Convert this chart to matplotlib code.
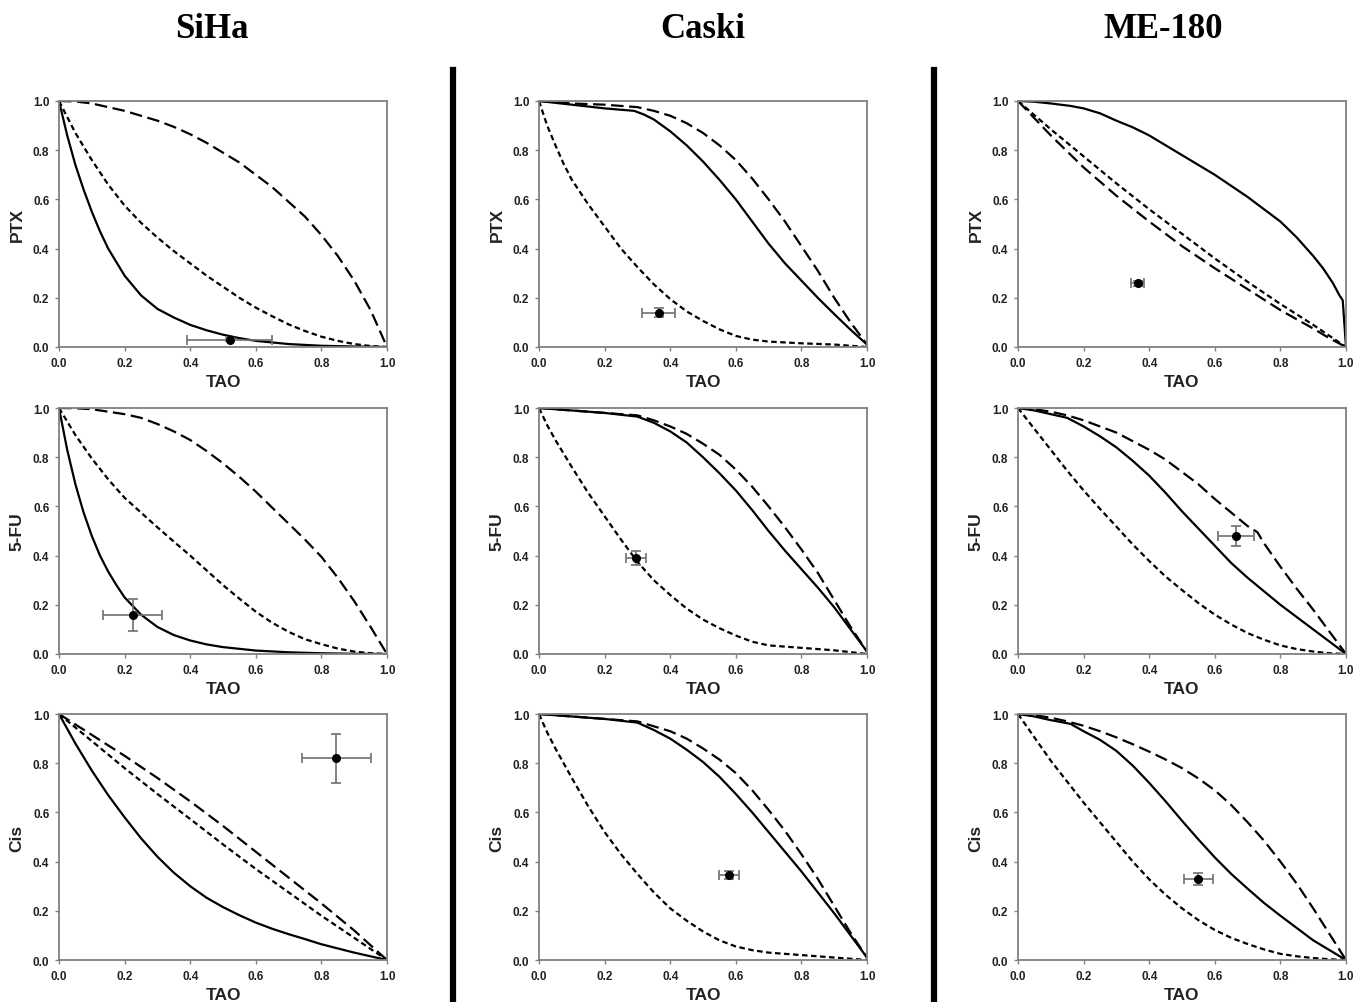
import matplotlib
matplotlib.use("Agg")
import matplotlib.pyplot as plt
from matplotlib.ticker import FormatStrFormatter

plt.rcParams["font.family"] = ["Liberation Sans", "DejaVu Sans"]
plt.rcParams["lines.scale_dashes"] = False

cells = ["SiHa", "Caski", "ME-180"]
drugs = ["PTX", "5-FU", "Cis"]

# curves: {(drug, cell): (x, y)}
solid = {
    ("PTX", "SiHa"): ([0, 0.025, 0.05, 0.075, 0.1, 0.125, 0.15, 0.175, 0.2, 0.25, 0.3, 0.35, 0.4, 0.45, 0.5, 0.55, 0.6, 0.7, 0.8, 0.9, 1.0],
                      [1, 0.86, 0.74, 0.64, 0.55, 0.47, 0.40, 0.345, 0.29, 0.21, 0.155, 0.12, 0.09, 0.068, 0.05, 0.036, 0.025, 0.012, 0.005, 0.002, 0]),
    ("PTX", "Caski"): ([0, 0.1, 0.2, 0.29, 0.32, 0.35, 0.4, 0.45, 0.5, 0.55, 0.6, 0.65, 0.7, 0.75, 0.8, 0.85, 0.9, 0.95, 1.0],
                       [1, 0.985, 0.97, 0.96, 0.945, 0.925, 0.877, 0.82, 0.754, 0.68, 0.60, 0.51, 0.42, 0.34, 0.27, 0.20, 0.134, 0.07, 0.01]),
    ("PTX", "ME-180"): ([0, 0.05, 0.1, 0.16, 0.2, 0.25, 0.3, 0.35, 0.4, 0.45, 0.5, 0.55, 0.6, 0.65, 0.7, 0.75, 0.8, 0.85, 0.9, 0.93, 0.96, 0.98, 0.99, 1.0],
                        [1, 0.997, 0.99, 0.98, 0.97, 0.95, 0.92, 0.893, 0.86, 0.82, 0.78, 0.74, 0.70, 0.655, 0.61, 0.56, 0.51, 0.445, 0.37, 0.32, 0.26, 0.21, 0.19, 0]),
    ("5-FU", "SiHa"): ([0, 0.025, 0.05, 0.075, 0.1, 0.125, 0.15, 0.175, 0.2, 0.25, 0.3, 0.35, 0.4, 0.45, 0.5, 0.6, 0.7, 0.8, 0.9, 1.0],
                       [1, 0.83, 0.69, 0.575, 0.48, 0.40, 0.335, 0.28, 0.23, 0.16, 0.11, 0.077, 0.055, 0.039, 0.028, 0.014, 0.007, 0.003, 0.001, 0]),
    ("5-FU", "Caski"): ([0, 0.1, 0.2, 0.3, 0.35, 0.4, 0.45, 0.5, 0.55, 0.6, 0.65, 0.7, 0.75, 0.8, 0.85, 0.9, 0.95, 1.0],
                        [1, 0.99, 0.98, 0.965, 0.94, 0.905, 0.86, 0.80, 0.735, 0.665, 0.585, 0.50, 0.42, 0.345, 0.27, 0.19, 0.10, 0.01]),
    ("5-FU", "ME-180"): ([0, 0.05, 0.1, 0.15, 0.2, 0.25, 0.3, 0.35, 0.4, 0.45, 0.5, 0.55, 0.6, 0.65, 0.7, 0.75, 0.8, 0.85, 0.9, 0.95, 1.0],
                         [1, 0.99, 0.975, 0.96, 0.925, 0.885, 0.84, 0.785, 0.725, 0.655, 0.58, 0.51, 0.44, 0.37, 0.31, 0.255, 0.20, 0.15, 0.10, 0.05, 0]),
    ("Cis", "SiHa"): ([0, 0.05, 0.1, 0.15, 0.2, 0.25, 0.3, 0.35, 0.4, 0.45, 0.5, 0.55, 0.6, 0.65, 0.7, 0.75, 0.8, 0.85, 0.9, 0.95, 1.0],
                      [1, 0.88, 0.77, 0.67, 0.58, 0.495, 0.42, 0.355, 0.30, 0.253, 0.215, 0.182, 0.152, 0.127, 0.105, 0.085, 0.064, 0.047, 0.03, 0.015, 0]),
    ("Cis", "Caski"): ([0, 0.1, 0.2, 0.3, 0.35, 0.4, 0.45, 0.5, 0.55, 0.6, 0.65, 0.7, 0.75, 0.8, 0.85, 0.9, 0.95, 1.0],
                       [1, 0.99, 0.98, 0.965, 0.935, 0.90, 0.855, 0.805, 0.745, 0.675, 0.60, 0.52, 0.44, 0.36, 0.275, 0.19, 0.10, 0.01]),
    ("Cis", "ME-180"): ([0, 0.05, 0.1, 0.16, 0.2, 0.25, 0.3, 0.35, 0.4, 0.45, 0.5, 0.55, 0.6, 0.65, 0.7, 0.75, 0.8, 0.85, 0.9, 0.95, 1.0],
                        [1, 0.99, 0.975, 0.96, 0.93, 0.895, 0.85, 0.79, 0.72, 0.645, 0.566, 0.49, 0.417, 0.35, 0.29, 0.232, 0.18, 0.13, 0.08, 0.04, 0]),
}

long_dash = {
    ("PTX", "SiHa"): ([0, 0.05, 0.1, 0.15, 0.2, 0.25, 0.3, 0.35, 0.4, 0.45, 0.5, 0.55, 0.6, 0.65, 0.7, 0.75, 0.8, 0.85, 0.9, 0.95, 1.0],
                      [1, 0.998, 0.99, 0.975, 0.96, 0.94, 0.92, 0.895, 0.865, 0.83, 0.79, 0.75, 0.70, 0.65, 0.59, 0.53, 0.455, 0.37, 0.27, 0.15, 0]),
    ("PTX", "Caski"): ([0, 0.1, 0.2, 0.3, 0.35, 0.4, 0.45, 0.5, 0.55, 0.6, 0.65, 0.7, 0.75, 0.8, 0.85, 0.9, 0.95, 1.0],
                       [1, 0.99, 0.985, 0.975, 0.96, 0.94, 0.91, 0.87, 0.82, 0.76, 0.685, 0.60, 0.51, 0.41, 0.31, 0.20, 0.10, 0.01]),
    ("PTX", "ME-180"): ([0, 0.1, 0.2, 0.3, 0.4, 0.5, 0.6, 0.7, 0.8, 0.9, 0.95, 1.0],
                        [1, 0.86, 0.73, 0.615, 0.51, 0.41, 0.32, 0.235, 0.15, 0.075, 0.035, 0]),
    ("5-FU", "SiHa"): ([0, 0.05, 0.1, 0.15, 0.2, 0.25, 0.3, 0.35, 0.4, 0.45, 0.5, 0.55, 0.6, 0.65, 0.7, 0.75, 0.8, 0.85, 0.9, 0.95, 1.0],
                       [1, 0.999, 0.995, 0.985, 0.975, 0.96, 0.935, 0.905, 0.87, 0.825, 0.775, 0.72, 0.66, 0.595, 0.53, 0.465, 0.395, 0.31, 0.215, 0.11, 0]),
    ("5-FU", "Caski"): ([0, 0.1, 0.2, 0.3, 0.35, 0.4, 0.45, 0.5, 0.55, 0.6, 0.65, 0.7, 0.75, 0.8, 0.85, 0.9, 0.95, 1.0],
                        [1, 0.99, 0.98, 0.97, 0.95, 0.925, 0.895, 0.855, 0.81, 0.75, 0.68, 0.60, 0.515, 0.425, 0.33, 0.22, 0.11, 0.01]),
    ("5-FU", "ME-180"): ([0, 0.05, 0.1, 0.15, 0.2, 0.25, 0.3, 0.35, 0.4, 0.45, 0.5, 0.55, 0.6, 0.65, 0.7, 0.73, 0.75, 0.8, 0.85, 0.9, 0.95, 1.0],
                         [1, 0.995, 0.985, 0.97, 0.95, 0.925, 0.90, 0.865, 0.83, 0.79, 0.74, 0.69, 0.63, 0.575, 0.52, 0.495, 0.45, 0.355, 0.265, 0.18, 0.09, 0]),
    ("Cis", "SiHa"): ([0, 0.1, 0.2, 0.3, 0.4, 0.5, 0.6, 0.7, 0.8, 0.9, 1.0],
                      [1, 0.915, 0.83, 0.74, 0.645, 0.545, 0.44, 0.335, 0.23, 0.12, 0]),
    ("Cis", "Caski"): ([0, 0.1, 0.2, 0.3, 0.35, 0.4, 0.45, 0.5, 0.55, 0.6, 0.65, 0.7, 0.75, 0.8, 0.85, 0.9, 0.95, 1.0],
                       [1, 0.99, 0.98, 0.97, 0.95, 0.93, 0.90, 0.86, 0.815, 0.76, 0.69, 0.61, 0.525, 0.43, 0.33, 0.22, 0.11, 0.01]),
    ("Cis", "ME-180"): ([0, 0.05, 0.1, 0.15, 0.2, 0.25, 0.3, 0.35, 0.4, 0.45, 0.5, 0.55, 0.6, 0.65, 0.7, 0.75, 0.8, 0.85, 0.9, 0.95, 1.0],
                        [1, 0.995, 0.985, 0.97, 0.952, 0.93, 0.905, 0.877, 0.847, 0.815, 0.78, 0.738, 0.69, 0.63, 0.56, 0.485, 0.40, 0.31, 0.21, 0.105, 0]),
}

short_dash = {
    ("PTX", "SiHa"): ([0, 0.05, 0.1, 0.15, 0.2, 0.25, 0.3, 0.35, 0.4, 0.45, 0.5, 0.55, 0.6, 0.65, 0.7, 0.75, 0.8, 0.85, 0.9, 0.95, 1.0],
                      [1, 0.87, 0.76, 0.66, 0.575, 0.505, 0.445, 0.39, 0.34, 0.29, 0.245, 0.20, 0.16, 0.125, 0.092, 0.065, 0.042, 0.025, 0.012, 0.004, 0]),
    ("PTX", "Caski"): ([0, 0.025, 0.05, 0.075, 0.1, 0.15, 0.2, 0.25, 0.3, 0.35, 0.4, 0.45, 0.5, 0.55, 0.6, 0.65, 0.7, 0.8, 0.9, 1.0],
                       [1, 0.9, 0.82, 0.745, 0.68, 0.58, 0.49, 0.40, 0.325, 0.255, 0.195, 0.145, 0.106, 0.072, 0.045, 0.03, 0.022, 0.015, 0.01, 0]),
    ("PTX", "ME-180"): ([0, 0.1, 0.2, 0.3, 0.4, 0.5, 0.6, 0.7, 0.8, 0.9, 0.95, 1.0],
                        [1, 0.885, 0.775, 0.665, 0.56, 0.46, 0.36, 0.265, 0.175, 0.09, 0.045, 0]),
    ("5-FU", "SiHa"): ([0, 0.05, 0.1, 0.15, 0.2, 0.25, 0.3, 0.35, 0.4, 0.45, 0.5, 0.55, 0.6, 0.65, 0.7, 0.75, 0.8, 0.85, 0.9, 0.95, 1.0],
                       [1, 0.89, 0.795, 0.71, 0.635, 0.575, 0.515, 0.457, 0.40, 0.34, 0.28, 0.225, 0.172, 0.127, 0.09, 0.06, 0.04, 0.022, 0.01, 0.003, 0]),
    ("5-FU", "Caski"): ([0, 0.025, 0.05, 0.1, 0.15, 0.2, 0.25, 0.3, 0.35, 0.4, 0.45, 0.5, 0.55, 0.6, 0.65, 0.7, 0.8, 0.9, 1.0],
                        [1, 0.93, 0.87, 0.76, 0.655, 0.56, 0.465, 0.375, 0.30, 0.24, 0.185, 0.14, 0.105, 0.075, 0.05, 0.035, 0.025, 0.015, 0]),
    ("5-FU", "ME-180"): ([0, 0.05, 0.1, 0.15, 0.2, 0.25, 0.3, 0.35, 0.4, 0.45, 0.5, 0.55, 0.6, 0.65, 0.7, 0.75, 0.8, 0.85, 0.9, 0.95, 1.0],
                         [1, 0.915, 0.83, 0.745, 0.665, 0.59, 0.518, 0.445, 0.378, 0.315, 0.26, 0.207, 0.16, 0.12, 0.085, 0.058, 0.035, 0.02, 0.01, 0.003, 0]),
    ("Cis", "SiHa"): ([0, 0.1, 0.2, 0.3, 0.4, 0.5, 0.6, 0.7, 0.8, 0.9, 1.0],
                      [1, 0.89, 0.78, 0.675, 0.573, 0.47, 0.37, 0.275, 0.18, 0.09, 0]),
    ("Cis", "Caski"): ([0, 0.025, 0.05, 0.1, 0.15, 0.2, 0.25, 0.3, 0.35, 0.4, 0.45, 0.5, 0.55, 0.6, 0.65, 0.7, 0.8, 0.9, 1.0],
                       [1, 0.925, 0.86, 0.74, 0.625, 0.52, 0.43, 0.35, 0.275, 0.21, 0.16, 0.116, 0.08, 0.055, 0.04, 0.03, 0.02, 0.01, 0]),
    ("Cis", "ME-180"): ([0, 0.05, 0.1, 0.15, 0.2, 0.25, 0.3, 0.35, 0.4, 0.45, 0.5, 0.55, 0.6, 0.65, 0.7, 0.75, 0.8, 0.85, 0.9, 0.95, 1.0],
                        [1, 0.905, 0.81, 0.725, 0.64, 0.56, 0.48, 0.40, 0.328, 0.265, 0.21, 0.162, 0.122, 0.09, 0.065, 0.043, 0.025, 0.015, 0.008, 0.003, 0]),
}

# measured point: x, y, xerr, yerr
points = {
    ("PTX", "SiHa"): (0.52, 0.03, 0.13, 0.005),
    ("PTX", "Caski"): (0.365, 0.14, 0.05, 0.02),
    ("PTX", "ME-180"): (0.365, 0.26, 0.02, 0.01),
    ("5-FU", "SiHa"): (0.225, 0.16, 0.09, 0.065),
    ("5-FU", "Caski"): (0.295, 0.39, 0.03, 0.03),
    ("5-FU", "ME-180"): (0.665, 0.48, 0.055, 0.04),
    ("Cis", "SiHa"): (0.845, 0.82, 0.105, 0.10),
    ("Cis", "Caski"): (0.58, 0.345, 0.03, 0.015),
    ("Cis", "ME-180"): (0.55, 0.33, 0.045, 0.025),
}

W, H = 1354, 1003
fig = plt.figure(figsize=(W / 100, H / 100), dpi=100)

col_left = [59, 539, 1018]
row_top = [102, 409, 715]
ax_w, ax_h = 328, 246
spine_col = "#808080"
ticks = [0, 0.2, 0.4, 0.6, 0.8, 1.0]

for r, drug in enumerate(drugs):
    for c, cell in enumerate(cells):
        ax = fig.add_axes([col_left[c] / W, 1 - (row_top[r] + ax_h) / H, ax_w / W, ax_h / H])
        key = (drug, cell)
        x, y = solid[key]
        ax.plot(x, y, color="black", lw=1.6, solid_joinstyle="round")
        x, y = long_dash[key]
        ax.plot(x, y, color="black", lw=1.6, dashes=(9, 4))
        x, y = short_dash[key]
        ax.plot(x, y, color="black", lw=1.6, dashes=(4, 2.5))
        px, py, ex, ey = points[key]
        ax.errorbar([px], [py], xerr=[ex], yerr=[ey], fmt="none", ecolor="#707070",
                    elinewidth=1.2, capsize=3.5, capthick=1.2)
        ax.plot([px], [py], "o", color="black", ms=5.5)

        ax.set_xlim(0, 1)
        ax.set_ylim(0, 1)
        ax.set_xticks(ticks)
        ax.set_yticks(ticks)
        ax.xaxis.set_major_formatter(FormatStrFormatter("%.1f"))
        ax.yaxis.set_major_formatter(FormatStrFormatter("%.1f"))
        for s in ax.spines.values():
            s.set_color(spine_col)
            s.set_linewidth(1.3)
        ax.tick_params(direction="out", length=3, width=1, color=spine_col,
                       labelsize=8.5, pad=4, labelcolor="#222222")
        for lab in ax.get_xticklabels() + ax.get_yticklabels():
            lab.set_fontweight("bold")
        ax.set_xlabel("TAO", fontsize=12.5, fontweight="bold", labelpad=4, color="#222222")
        ax.set_ylabel(drug, fontsize=12.5, fontweight="bold", labelpad=6, color="#222222")

# column titles
title_x = [212, 703, 1163]
for c, cell in enumerate(cells):
    fig.text(title_x[c] / W, 1 - 30 / H, cell, ha="center", va="center",
             fontsize=25, fontweight="bold", family=["Liberation Serif", "DejaVu Serif"])

# thick separators between columns
for xs in [453, 934]:
    fig.add_artist(plt.Line2D([xs / W, xs / W], [0, 1 - 71 / H], transform=fig.transFigure,
                              color="black", lw=4.5))

fig.savefig("out.png", dpi=100)
